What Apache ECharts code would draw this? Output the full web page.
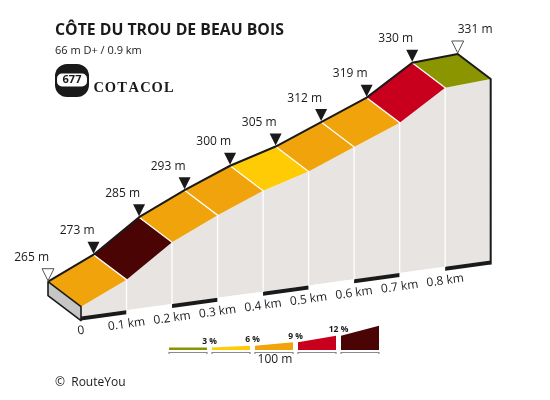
<!DOCTYPE html>
<html>
<head>
<meta charset="utf-8">
<script src="https://cdn.jsdelivr.net/npm/echarts@6/dist/echarts.min.js"></script>
<style>
  html, body { margin: 0; padding: 0; background: #fff; }
  #chart { width: 550px; height: 400px; }
</style>
</head>
<body>
<div id="chart"></div>
<script>
// profile data
const distances = [0, 0.1, 0.2, 0.3, 0.4, 0.5, 0.6, 0.7, 0.8, 0.9]
const elevations = [265, 273, 285, 293, 300, 305, 312, 319, 330, 331]
const elevationLabels = ['265 m', '273 m', '285 m', '293 m', '300 m', '305 m', '312 m', '319 m', '330 m', '331 m']
const tickLabels = ['0', '0.1 km', '0.2 km', '0.3 km', '0.4 km', '0.5 km', '0.6 km', '0.7 km', '0.8 km']

// grade classes (legend)
const gradeLimits = [3, 6, 9, 12]
const gradeLabels = ['3 %', '6 %', '9 %', '12 %']
const gradeColors = ['#8a9500', '#ffcb05', '#f0a30a', '#c8001e', '#4a0404']

const BASE = 261.2
const SKEW = 0.137
const DEPTH_X = 33
const DEPTH_Y = 25
const BAND = 4
const FONT = '"Open Sans", sans-serif'

function gradeColor(g) {
  for (let k = 0; k < gradeLimits.length; k++) {
    if (g < gradeLimits[k]) return gradeColors[k]
  }
  return gradeColors[gradeColors.length - 1]
}

// oblique projection on top of the cartesian coords
function proj(api, d, e, front) {
  const p = api.coord([d, e])
  const x0 = api.coord([0, e])[0]
  p[1] -= (p[0] - x0) * SKEW
  if (front) {
    p[0] += DEPTH_X
    p[1] += DEPTH_Y
  }
  return p
}

const pointData = distances.map((d, i) => [d, elevations[i]])
const segData = pointData.slice(0, -1)

function renderSegment(params, api) {
  const i = params.dataIndex
  const d0 = distances[i], d1 = distances[i + 1]
  const e0 = elevations[i], e1 = elevations[i + 1]
  const grade = ((e1 - e0) / ((d1 - d0) * 1000)) * 100
  const b0 = proj(api, d0, e0, false)
  const b1 = proj(api, d1, e1, false)
  const f0 = proj(api, d0, e0, true)
  const f1 = proj(api, d1, e1, true)
  const g0 = proj(api, d0, BASE, true)
  const g1 = proj(api, d1, BASE, true)
  const children = [
    {
      type: 'polygon',
      shape: { points: [f0, f1, g1, g0] },
      style: { fill: '#e8e4e2' },
    },
    {
      type: 'polygon',
      shape: { points: [g0, g1, [g1[0], g1[1] + BAND], [g0[0], g0[1] + BAND]] },
      style: { fill: i % 2 === 0 ? '#1a1a1a' : '#ffffff' },
    },
    {
      type: 'polygon',
      shape: { points: [b0, b1, f1, f0] },
      style: { fill: gradeColor(grade) },
    },
  ]
  if (i > 0) {
    children.push({
      type: 'polyline',
      shape: { points: [b0, f0, g0] },
      style: { stroke: '#ffffff', lineWidth: 1.3, fill: null },
    })
  }
  return { type: 'group', children: children }
}

function renderOutline(params, api) {
  const n = distances.length - 1
  const bt0 = proj(api, 0, elevations[0], false)
  const ft0 = proj(api, 0, elevations[0], true)
  const fb0 = proj(api, 0, BASE, true)
  const bb0 = proj(api, 0, BASE, false)
  const back = distances.map((d, i) => proj(api, d, elevations[i], false))
  const ftN = proj(api, distances[n], elevations[n], true)
  const fbN = proj(api, distances[n], BASE, true)
  return {
    type: 'group',
    children: [
      {
        type: 'polygon',
        shape: {
          points: [bt0, ft0, [fb0[0], fb0[1] + BAND], [bb0[0], bb0[1] + BAND]],
        },
        style: { fill: '#c6c6c6', stroke: '#1a1a1a', lineWidth: 1.6, lineJoin: 'round' },
      },
      {
        type: 'polyline',
        shape: { points: back.concat([ftN, [fbN[0], fbN[1] + BAND]]) },
        style: { stroke: '#1a1a1a', lineWidth: 2, fill: null, lineJoin: 'round' },
      },
    ],
  }
}

function renderMarker(params, api) {
  const i = params.dataIndex
  const last = distances.length - 1
  const p = proj(api, distances[i], elevations[i], false)
  const isEnd = i === 0 || i === last
  return {
    type: 'group',
    children: [
      {
        type: 'polygon',
        shape: { points: [[p[0] - 6, p[1] - 13], [p[0] + 6, p[1] - 13], [p[0], p[1] - 1]] },
        style: isEnd
          ? { fill: '#ffffff', stroke: '#555555', lineWidth: 1 }
          : { fill: '#1a1a1a' },
      },
      {
        type: 'text',
        style: {
          text: elevationLabels[i],
          x: p[0] + (i === last ? 0 : 1),
          y: p[1] - 24,
          textAlign: i === last ? 'left' : 'right',
          textVerticalAlign: 'middle',
          font: '12px ' + FONT,
          fill: '#1a1a1a',
        },
      },
    ],
  }
}

function renderTick(params, api) {
  const i = params.dataIndex
  const p = proj(api, distances[i], BASE, true)
  return {
    type: 'text',
    x: p[0],
    y: p[1] + BAND + 10,
    rotation: Math.atan(SKEW),
    style: {
      text: tickLabels[i],
      x: 0,
      y: 0,
      textAlign: 'center',
      textVerticalAlign: 'middle',
      font: '12px ' + FONT,
      fill: '#1a1a1a',
    },
  }
}

// legend wedges
const legendHeights = [[2.4, 2.4], [2.4, 4.3], [4.3, 7.7], [7.7, 14.3], [14.3, 24.3]]
const legendGraphics = []
gradeColors.forEach((c, k) => {
  const x = 169 + k * 43
  const w = 38
  const h = legendHeights[k]
  legendGraphics.push({
    type: 'polygon',
    shape: { points: [[x, 350], [x + w, 350], [x + w, 350 - h[1]], [x, 350 - h[0]]] },
    style: { fill: c },
  })
  legendGraphics.push({
    type: 'polyline',
    shape: { points: [[x, 354], [x, 352.5], [x + w, 352.5], [x + w, 354]] },
    style: { stroke: '#8a8a8a', lineWidth: 1.2, fill: null },
  })
})
gradeLabels.forEach((t, k) => {
  const bx = 169 + k * 43 + 40.5
  const top = 350 - legendHeights[k][1]
  legendGraphics.push({
    type: 'text',
    style: {
      text: t,
      x: bx,
      y: top - 6,
      textAlign: 'center',
      textVerticalAlign: 'middle',
      font: 'bold 8.5px ' + FONT,
      fill: '#1a1a1a',
    },
  })
})

const logoLetters = 'COTACOL'.split('')
const logoGraphics = logoLetters.map((ch, k) => ({
  type: 'text',
  style: {
    text: ch,
    x: 98.7 + k * 11.7,
    y: 88.5,
    textAlign: 'center',
    textVerticalAlign: 'middle',
    font: 'bold 14.5px "Liberation Serif", serif',
    fill: '#1a1a1a',
  },
}))

const chart = echarts.init(document.getElementById('chart'))
chart.setOption({
  animation: false,
  grid: { left: 48, right: 92.3, top: 86.7, bottom: 79.3 },
  xAxis: { type: 'value', min: 0, max: 0.9, show: false },
  yAxis: { type: 'value', min: 250, max: 340, show: false },
  graphic: [
    {
      type: 'text',
      left: 55,
      top: 22,
      style: { text: 'CÔTE DU TROU DE BEAU BOIS', font: 'bold 15.8px ' + FONT, fill: '#1a1a1a' },
    },
    {
      type: 'text',
      left: 55,
      top: 45.5,
      style: { text: '66 m D+ / 0.9 km', font: '11px ' + FONT, fill: '#1a1a1a' },
    },
    {
      type: 'rect',
      shape: { x: 55, y: 64, width: 34, height: 33, r: 12 },
      style: { fill: '#1a1a1a' },
    },
    {
      type: 'rect',
      shape: { x: 57, y: 73.5, width: 30, height: 13, r: 5 },
      style: { fill: '#ffffff' },
    },
    {
      type: 'text',
      style: {
        text: '677',
        x: 72,
        y: 80,
        textAlign: 'center',
        textVerticalAlign: 'middle',
        font: 'bold 11px ' + FONT,
        fill: '#1a1a1a',
      },
    },
    ...logoGraphics,
    ...legendGraphics,
    {
      type: 'text',
      style: {
        text: '100 m',
        x: 275,
        y: 360,
        textAlign: 'center',
        textVerticalAlign: 'middle',
        font: '12px ' + FONT,
        fill: '#1a1a1a',
      },
    },
    {
      type: 'text',
      style: {
        text: '©  RouteYou',
        x: 55,
        y: 383,
        textVerticalAlign: 'middle',
        font: '12px ' + FONT,
        fill: '#1a1a1a',
      },
    },
  ],
  series: [
    { type: 'custom', name: 'segments', data: segData, renderItem: renderSegment, silent: true },
    { type: 'custom', name: 'outline', data: [[0, BASE]], renderItem: renderOutline, silent: true },
    { type: 'custom', name: 'markers', data: pointData, renderItem: renderMarker, silent: true },
    { type: 'custom', name: 'ticks', data: pointData.slice(0, tickLabels.length), renderItem: renderTick, silent: true },
  ],
})
</script>
</body>
</html>
